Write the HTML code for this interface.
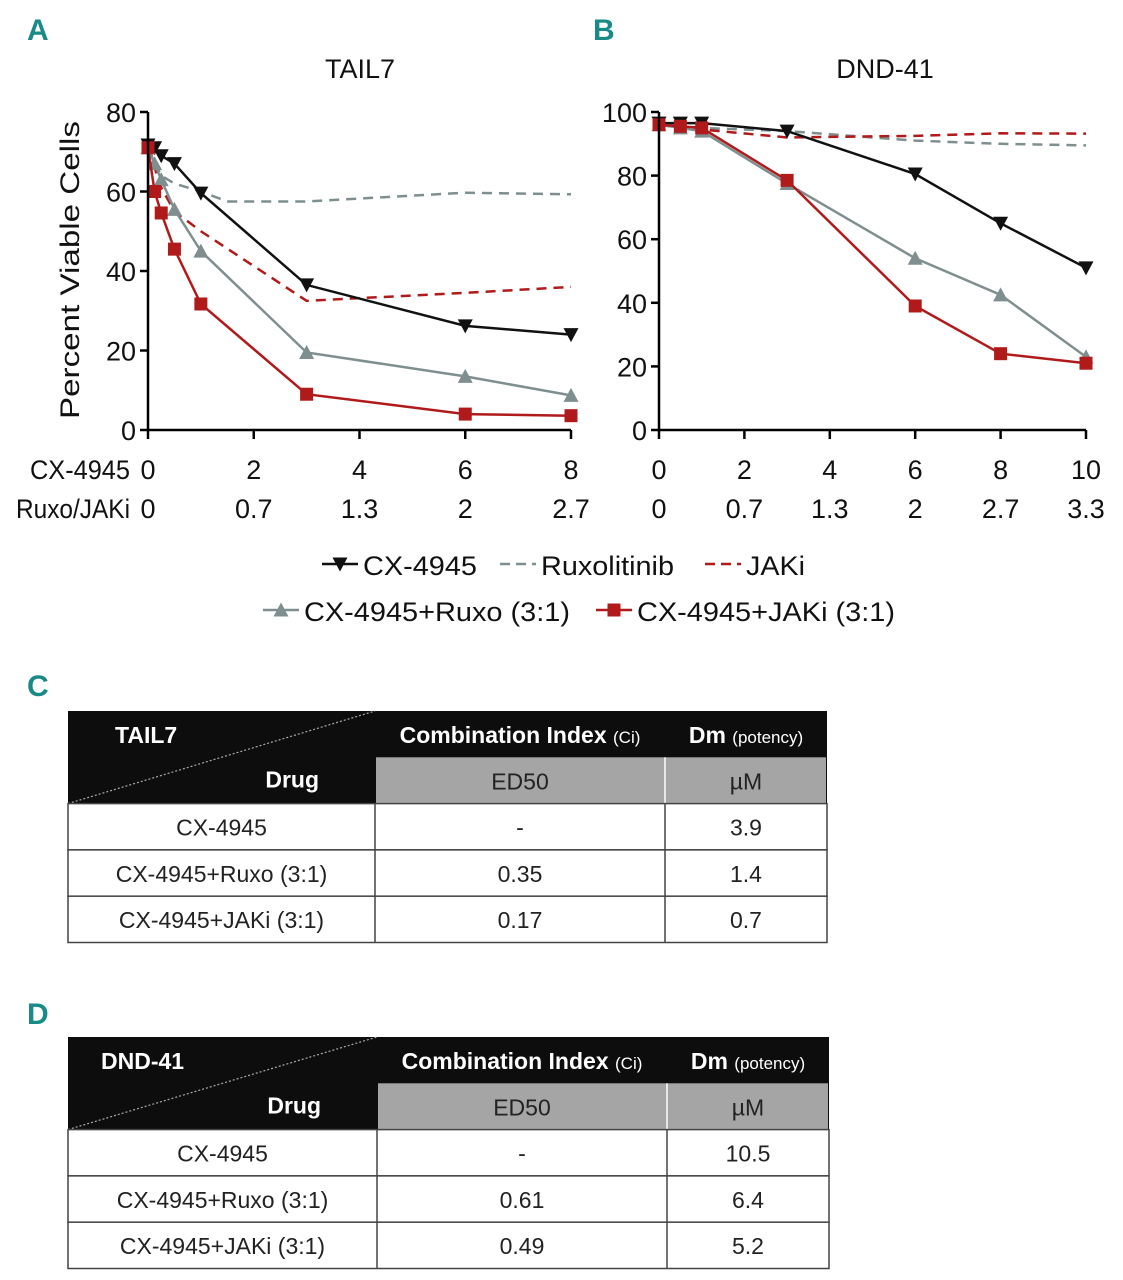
<!DOCTYPE html>
<html><head><meta charset="utf-8"><style>
html,body{margin:0;padding:0;background:#fff}
svg{display:block}
.ax{font-family:"Liberation Sans Narrow","Liberation Sans",sans-serif;font-size:27px;fill:#111}
.tb{font-family:"Liberation Sans Narrow","Liberation Sans",sans-serif;font-size:23px}
.pl{font-family:"Liberation Sans Narrow","Liberation Sans",sans-serif;font-weight:bold;font-size:30px;fill:#1a8a88}
</style></head><body>
<svg id="fig" width="1123" height="1280" viewBox="0 0 1123 1280" xmlns="http://www.w3.org/2000/svg">
<text class="pl" x="27" y="40">A</text>
<text class="pl" x="593" y="40">B</text>
<text class="pl" x="27" y="696">C</text>
<text class="pl" x="27" y="1024">D</text>
<g id="chartA"></g>
<g id="chartB"></g>
<g id="legend"></g>
<g id="tables"></g>
</svg>
<script>
const NS="http://www.w3.org/2000/svg";
// Chart A data (TAIL7)
const aX=[0,0.125,0.25,0.5,1,3,6,8];
const aCX=[71.7,71,69,67,59.6,36.5,26.2,24];
const aCombJ=[71,60,54.6,45.5,31.7,9,4,3.6];
const aCombR=[71,67,63,55.5,45,19.5,13.5,8.7];
const aRuxoX=[0,0.25,0.5,1,1.5,3,6,8];
const aRuxo=[71,64,62,60,57.5,57.5,59.7,59.3];
const aJakX=[0,0.25,0.5,1,3,6,8];
const aJak=[71,61,55,50,32.5,34.5,36];
const aTicksX=[0,2,4,6,8];
const aTicksX2=["0","0.7","1.3","2","2.7"];
const aTicksY=[0,20,40,60,80];
// Chart B data (DND-41)
const bX=[0,0.5,1,3,6,8,10];
const bCX=[96.5,96.5,96.5,94,80.5,65,51];
const bCombJ=[96,95.5,95,78.5,39,24,21];
const bCombR=[96,95,94,77.5,54,42.5,23];
const bRuxo=[96,95.5,95,94,91,90,89.5];
const bJak=[96,95,94.5,92,92.5,93.3,93.2];
const bTicksX=[0,2,4,6,8,10];
const bTicksX2=["0","0.7","1.3","2","2.7","3.3"];
const bTicksY=[0,20,40,60,80,100];

function el(tag,attrs,parent,txt){const e=document.createElementNS(NS,tag);for(const k in attrs)e.setAttribute(k,attrs[k]);if(txt!==undefined)e.textContent=txt;parent.appendChild(e);return e;}
const BLK="#111",GRY="#7f8f8f",RED="#b01a1a";
function marker(g,type,x,y,c){
  let m;
  if(type==="tri-down")m=el("path",{d:`M${x-7.5},${y-6.5}L${x+7.5},${y-6.5}L${x},${y+7.5}Z`,fill:c},g);
  else if(type==="tri-up")m=el("path",{d:`M${x-7.5},${y+6.5}L${x+7.5},${y+6.5}L${x},${y-7.5}Z`,fill:c},g);
  else if(type==="sq")m=el("rect",{x:x-6.5,y:y-6.5,width:13,height:13,fill:c},g);
  if(m){
  }
}
function drawChart(gid,cfg){
  const g=document.getElementById(gid);
  const sx=v=>cfg.x0+(v-cfg.xmin)/(cfg.xmax-cfg.xmin)*(cfg.x1-cfg.x0);
  const sy=v=>cfg.y0-(v/cfg.ymax)*(cfg.y0-cfg.y1);
  cfg.series.forEach(s=>{
    const sg=el("g",{},g);
    
    
    const pts=s.x.map((xv,i)=>sx(xv)+","+sy(s.y[i])).join(" ");
    const pl=el("polyline",{points:pts,fill:"none",stroke:s.c,"stroke-width":2.5,"stroke-dasharray":s.dash?"10,7":"none"},sg);
    
    
    if(s.m)s.x.forEach((xv,i)=>marker(sg,s.m,sx(xv),sy(s.y[i]),s.c));
  });
  const ya=el("line",{x1:cfg.x0,y1:cfg.y0,x2:cfg.x0,y2:cfg.y1,stroke:"#000","stroke-width":2.5},g);
  
  
  const xa=el("line",{x1:cfg.x0,y1:cfg.y0,x2:cfg.x1,y2:cfg.y0,stroke:"#000","stroke-width":2.5},g);
  
  
  cfg.ticksY.forEach(v=>{
    el("line",{x1:cfg.x0-8,x2:cfg.x0,y1:sy(v),y2:sy(v),stroke:"#000","stroke-width":2.5},g);
    const t=el("text",{x:cfg.x0-12,y:sy(v)+10,"text-anchor":"end",class:"ax","font-size":"28"},g,String(v));
    
    
  });
  cfg.ticksX.forEach((v,i)=>{
    el("line",{x1:sx(v),x2:sx(v),y1:cfg.y0,y2:cfg.y0+9,stroke:"#000","stroke-width":2.5},g);
    const t=el("text",{x:sx(v),y:479,"text-anchor":"middle",class:"ax"},g,String(v));
    
    
    const t2=el("text",{x:sx(v),y:518,"text-anchor":"middle",class:"ax"},g,cfg.ticksX2[i]);
    
    
  });
  const tt=el("text",{x:cfg.tx,y:78,"text-anchor":"middle",class:"ax","font-size":"33"},g,cfg.title);
  
  
}
drawChart("chartA",{x0:148,x1:571,xmin:0,xmax:8,y0:430,y1:112,ymax:80,ticksX:aTicksX,ticksX2:aTicksX2,ticksY:aTicksY,title:"TAIL7",tx:360,
 series:[
  {name:"series-ruxolitinib",x:aRuxoX,y:aRuxo,c:GRY,dash:true},
  {name:"series-jaki",x:aJakX,y:aJak,c:RED,dash:true},
  {name:"series-cx4945",x:aX,y:aCX,c:BLK,m:"tri-down"},
  {name:"series-cx4945-ruxo",x:aX,y:aCombR,c:GRY,m:"tri-up"},
  {name:"series-cx4945-jaki",x:aX,y:aCombJ,c:RED,m:"sq"}]});
drawChart("chartB",{x0:659,x1:1086,xmin:0,xmax:10,y0:430,y1:112,ymax:100,ticksX:bTicksX,ticksX2:bTicksX2,ticksY:bTicksY,title:"DND-41",tx:885,
 series:[
  {name:"series-ruxolitinib",x:bX,y:bRuxo,c:GRY,dash:true},
  {name:"series-jaki",x:bX,y:bJak,c:RED,dash:true},
  {name:"series-cx4945",x:bX,y:bCX,c:BLK,m:"tri-down"},
  {name:"series-cx4945-ruxo",x:bX,y:bCombR,c:GRY,m:"tri-up"},
  {name:"series-cx4945-jaki",x:bX,y:bCombJ,c:RED,m:"sq"}]});
(function(){
  const g=document.getElementById("chartA");
  const t=el("text",{transform:"translate(79,270) rotate(-90)","text-anchor":"middle",class:"ax","font-size":"33",textLength:"298",lengthAdjust:"spacingAndGlyphs"},g,"Percent Viable Cells");
  
  
  const a=el("text",{x:130,y:479,"text-anchor":"end",class:"ax","font-size":"24",textLength:"100",lengthAdjust:"spacingAndGlyphs"},g,"CX-4945");
  
  
  const b=el("text",{x:130,y:518,"text-anchor":"end",class:"ax","font-size":"24",textLength:"114",lengthAdjust:"spacingAndGlyphs"},g,"Ruxo/JAKi");
  
  
  const L=document.getElementById("legend");
  const items=[
   {x:322,y:564,c:BLK,m:"tri-down",t:"CX-4945",n:"legend-entry-cx4945",w:114},
   {x:500,y:564,c:GRY,dash:true,t:"Ruxolitinib",n:"legend-entry-ruxolitinib",w:133},
   {x:705,y:564,c:RED,dash:true,t:"JAKi",n:"legend-entry-jaki",w:59},
   {x:263,y:610,c:GRY,m:"tri-up",t:"CX-4945+Ruxo (3:1)",n:"legend-entry-cx4945-ruxo",w:266},
   {x:596,y:610,c:RED,m:"sq",t:"CX-4945+JAKi (3:1)",n:"legend-entry-cx4945-jaki",w:258}];
  items.forEach(it=>{
    const ig=el("g",{},L);
    
    
    el("line",{x1:it.x,x2:it.x+36,y1:it.y,y2:it.y,stroke:it.c,"stroke-width":2.5,"stroke-dasharray":it.dash?"10,6":"none"},ig);
    if(it.m)marker(ig,it.m,it.x+18,it.y,it.c);
    el("text",{x:it.x+41,y:it.y+11,class:"ax","font-size":"29",textLength:it.w,lengthAdjust:"spacingAndGlyphs"},ig,it.t);
  });
})();
const tRowsC=[["CX-4945","-","3.9"],["CX-4945+Ruxo (3:1)","0.35","1.4"],["CX-4945+JAKi (3:1)","0.17","0.7"]];
const tRowsD=[["CX-4945","-","10.5"],["CX-4945+Ruxo (3:1)","0.61","6.4"],["CX-4945+JAKi (3:1)","0.49","5.2"]];
function drawTable(name,cell,top,cols,rows){
  const T=document.getElementById("tables");
  const g=el("g",{},T);
  
  
  const [c0,c1,c2,c3]=cols, h=46.3;
  el("rect",{x:c0,y:top,width:c3-c0,height:2*h,fill:"#0d0d0d"},g);
  el("rect",{x:c1+1,y:top+h,width:c3-c1-2,height:h,fill:"#a5a5a5"},g);
  el("line",{x1:c2,x2:c2,y1:top+h,y2:top+2*h,stroke:"#fff","stroke-width":1.5},g);
  el("line",{x1:c0,y1:top+2*h,x2:c1,y2:top,stroke:"#aaa","stroke-width":1.2,"stroke-dasharray":"2,2"},g);
  el("text",{x:c0+(cell==="TAIL7"?47:33),y:top+32,class:"tb",fill:"#fff","font-weight":"bold"},g,cell);
  el("text",{x:c1-56,y:top+h+30,class:"tb",fill:"#fff","font-weight":"bold","text-anchor":"end"},g,"Drug");
  const ci=el("text",{x:(c1+c2)/2,y:top+32,class:"tb",fill:"#fff","font-weight":"bold","text-anchor":"middle"},g);
  ci.textContent="Combination Index ";
  el("tspan",{"font-size":"17","font-weight":"normal"},ci,"(Ci)");
  const dm=el("text",{x:(c2+c3)/2,y:top+32,class:"tb",fill:"#fff","font-weight":"bold","text-anchor":"middle"},g);
  dm.textContent="Dm ";
  el("tspan",{"font-size":"17","font-weight":"normal"},dm,"(potency)");
  el("text",{x:(c1+c2)/2,y:top+h+32,class:"tb",fill:"#222","text-anchor":"middle"},g,"ED50");
  el("text",{x:(c2+c3)/2,y:top+h+32,class:"tb",fill:"#222","text-anchor":"middle"},g,"µM");
  rows.forEach((r,i)=>{
    const y=top+2*h+i*h;
    const rg=el("g",{},g);
    
    
    el("rect",{x:c0,y:y,width:c3-c0,height:h,fill:"#fff",stroke:"#444","stroke-width":1.5},rg);
    el("line",{x1:c1,x2:c1,y1:y,y2:y+h,stroke:"#444","stroke-width":1.5},rg);
    el("line",{x1:c2,x2:c2,y1:y,y2:y+h,stroke:"#444","stroke-width":1.5},rg);
    el("text",{x:(c0+c1)/2,y:y+32,class:"tb",fill:"#222","text-anchor":"middle"},rg,r[0]);
    el("text",{x:(c1+c2)/2,y:y+32,class:"tb",fill:"#222","text-anchor":"middle"},rg,r[1]);
    el("text",{x:(c2+c3)/2,y:y+32,class:"tb",fill:"#222","text-anchor":"middle"},rg,r[2]);
  });
}
drawTable("table-tail7","TAIL7",711,[68,375,665,827],tRowsC);
drawTable("table-dnd41","DND-41",1037,[68,377,667,829],tRowsD);
</script>
</body></html>
